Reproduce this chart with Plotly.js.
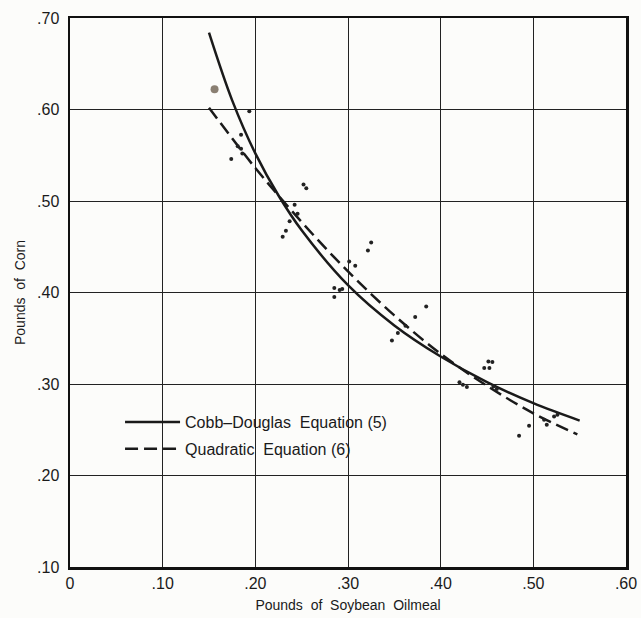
<!DOCTYPE html>
<html>
<head>
<meta charset="utf-8">
<script src="https://cdn.plot.ly/plotly-3.0.1.min.js"></script>
<style>
html,body{margin:0;padding:0;background:#fcfcfa;}
#chart{width:641px;height:618px;}
</style>
</head>
<body>
<div id="chart"></div>
<script>
// Cobb-Douglas isoquant (solid)
const cdX = [0.15, 0.175, 0.20, 0.225, 0.25, 0.30, 0.35, 0.40, 0.45, 0.50, 0.55];
const cdY = [0.684, 0.610, 0.552, 0.506, 0.468, 0.408, 0.364, 0.330, 0.302, 0.279, 0.260];
// Quadratic isoquant (dashed)
const qX = [0.15, 0.20, 0.25, 0.30, 0.35, 0.40, 0.45, 0.50, 0.5475];
const qY = [0.602, 0.536, 0.477, 0.423, 0.375, 0.333, 0.298, 0.268, 0.245];
// Observed points
const obsX = [0.1935, 0.1846, 0.181, 0.1846, 0.186, 0.174, 0.252, 0.255, 0.2424, 0.2456, 0.237, 0.233, 0.2295,
              0.325, 0.3215, 0.3013, 0.3078, 0.2852, 0.291, 0.2938, 0.2852, 0.3844, 0.3725, 0.362, 0.3538, 0.3474,
              0.4515, 0.4558, 0.447, 0.4526, 0.4203, 0.424, 0.4283, 0.457, 0.4606,
              0.4846, 0.4954, 0.5145, 0.5116, 0.5224, 0.526];
const obsY = [0.598, 0.5725, 0.5597, 0.557, 0.552, 0.546, 0.518, 0.514, 0.496, 0.486, 0.478, 0.4675, 0.461,
              0.4547, 0.446, 0.434, 0.4293, 0.405, 0.4027, 0.4038, 0.395, 0.3848, 0.3732, 0.3637, 0.3557, 0.3476,
              0.3247, 0.324, 0.3175, 0.3175, 0.3018, 0.2993, 0.2967, 0.2974, 0.2945,
              0.2435, 0.2544, 0.2555, 0.261, 0.2646, 0.2665];
// Heavier printed point
const heavyX = [0.156];
const heavyY = [0.622];

const xTicks = [0, 0.1, 0.2, 0.3, 0.4, 0.5, 0.6];
const xTickText = ['0', '.10', '.20', '.30', '.40', '.50', '.60'];
const yTicks = [0.1, 0.2, 0.3, 0.4, 0.5, 0.6, 0.7];
const yTickText = ['.10', '.20', '.30', '.40', '.50', '.60', '.70'];

const fontFam = 'Liberation Sans, Arial, sans-serif';

const traces = [
  {x: cdX, y: cdY, mode: 'lines', name: 'Cobb\u2013Douglas  Equation (5)', legendgroup: 'a',
   line: {color: '#1a1a1a', width: 2.5, shape: 'spline'}},
  {x: qX, y: qY, mode: 'lines', name: 'Quadratic  Equation (6)', legendgroup: 'b',
   line: {color: '#1a1a1a', width: 2.5, shape: 'spline', dash: '13px,6px'}},
  {x: obsX, y: obsY, mode: 'markers', showlegend: false,
   marker: {color: '#222', size: 4}},
  {x: heavyX, y: heavyY, mode: 'markers', showlegend: false,
   marker: {color: '#8a7f72', size: 8}}
];

const layout = {
  width: 641, height: 618,
  paper_bgcolor: '#fcfcfa', plot_bgcolor: '#fcfcfa',
  margin: {l: 70, r: 15, t: 18, b: 51},
  font: {family: fontFam, color: '#1a1a1a', size: 15},
  showlegend: true,
  legend: {x: 0.09, y: 0.295, xanchor: 'left', yanchor: 'top', bgcolor: 'rgba(0,0,0,0)',
           font: {size: 16, family: fontFam}, traceorder: 'grouped', tracegroupgap: 3, itemwidth: 55},
  xaxis: {range: [0, 0.6], tickvals: xTicks, ticktext: xTickText, showgrid: true,
          gridcolor: '#222', gridwidth: 1, showline: true, linecolor: '#111', linewidth: 2.5,
          mirror: true, zeroline: false, ticks: '', tickfont: {size: 16},
          title: {text: 'Pounds  of  Soybean  Oilmeal', font: {size: 14}, standoff: 10}},
  yaxis: {range: [0.1, 0.7], tickvals: yTicks, ticktext: yTickText, showgrid: true,
          gridcolor: '#222', gridwidth: 1, showline: true, linecolor: '#111', linewidth: 2.5,
          mirror: true, zeroline: false, ticks: '', tickfont: {size: 16}, ticklabelstandoff: 5,
          title: {text: 'Pounds  of  Corn', font: {size: 14}, standoff: 8}}
};

Plotly.newPlot('chart', traces, layout, {displayModeBar: false, staticPlot: true});
</script>
</body>
</html>
